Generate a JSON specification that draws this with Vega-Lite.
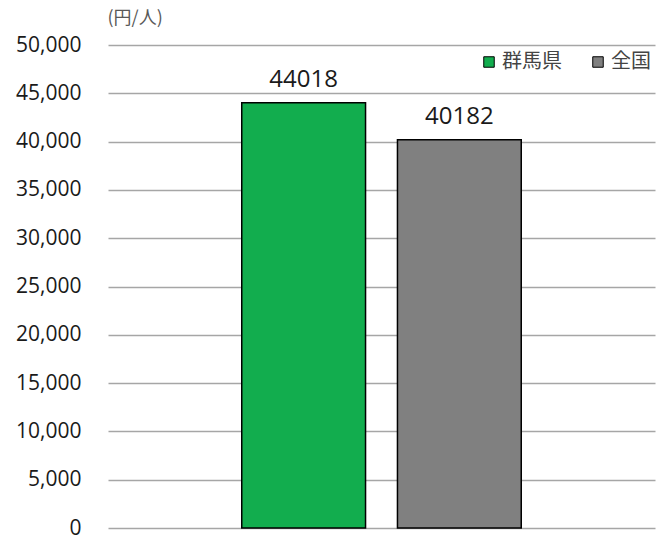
{
  "$schema": "https://vega.github.io/schema/vega-lite/v6.json",
  "width": 547,
  "height": 483,
  "autosize": {"type": "none"},
  "padding": {"left": 108, "top": 45, "right": 16, "bottom": 12},
  "background": "white",
  "config": {
    "view": {"stroke": null},
    "font": "Noto Sans CJK JP"
  },
  "data": {
    "values": [
      {"name": "群馬県", "value": 44018},
      {"name": "全国", "value": 40182}
    ]
  },
  "encoding": {
    "x": {
      "field": "name",
      "type": "nominal",
      "sort": ["群馬県", "全国"],
      "scale": {"paddingInner": 0.205, "paddingOuter": 0.859},
      "axis": null
    },
    "y": {
      "field": "value",
      "type": "quantitative",
      "scale": {"domain": [0, 50000], "nice": false},
      "axis": {
        "values": [0, 5000, 10000, 15000, 20000, 25000, 30000, 35000, 40000, 45000, 50000],
        "format": ",d",
        "domain": false,
        "ticks": false,
        "grid": true,
        "gridColor": "#A6A6A6",
        "gridWidth": 1.5,
        "labelPadding": 27,
        "labelFontSize": 21,
        "labelColor": "#1a1a1a",
        "labelFont": "Open Sans",
        "title": "(円/人)",
        "titleAngle": 0,
        "titleAlign": "left",
        "titleBaseline": "middle",
        "titleX": -1,
        "titleY": -27,
        "titleFontSize": 18,
        "titleFontWeight": "normal",
        "titleColor": "#595959"
      }
    }
  },
  "layer": [
    {
      "mark": {"type": "bar", "stroke": "black", "strokeWidth": 1.5},
      "encoding": {
        "color": {
          "field": "name",
          "type": "nominal",
          "scale": {"domain": ["群馬県", "全国"], "range": ["#12AD4E", "#808080"]},
          "legend": {
            "title": null,
            "orient": "none",
            "legendX": 371,
            "legendY": 7,
            "direction": "horizontal",
            "symbolType": "square",
            "symbolSize": 110,
            "symbolStrokeColor": "black",
            "symbolStrokeWidth": 1,
            "symbolOpacity": 1,
            "labelFontSize": 20,
            "labelColor": "#444444",
            "labelOffset": 3,
            "columnPadding": 26
          }
        }
      }
    },
    {
      "mark": {"type": "text", "baseline": "alphabetic", "dy": -16, "fontSize": 24, "font": "Open Sans", "color": "#1a1a1a"},
      "encoding": {
        "text": {"field": "value", "type": "quantitative", "format": "d"}
      }
    }
  ]
}
